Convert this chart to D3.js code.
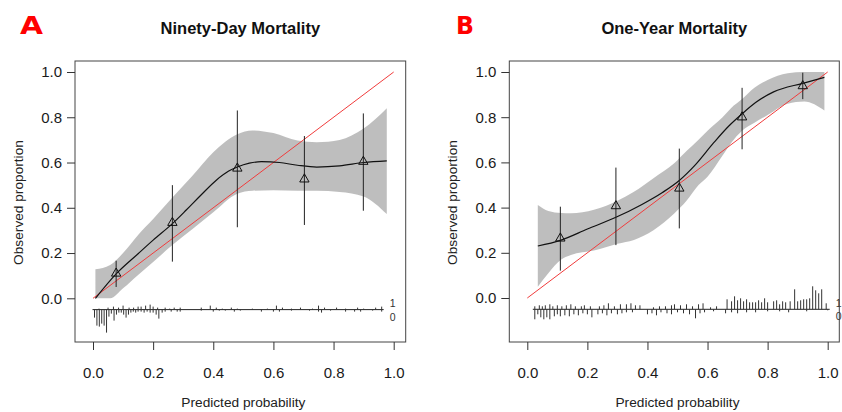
<!DOCTYPE html>
<html>
<head>
<meta charset="utf-8">
<style>
  body { margin: 0; background: #fff; }
  svg text { font-family: "Liberation Sans", Arial, Helvetica, sans-serif; }
  .tick line { stroke: #333; }
  .tick text { fill: #1a1a1a; font-size: 15px; }
</style>
</head>
<body>
<svg width="842" height="412"></svg>
<script src="https://cdnjs.cloudflare.com/ajax/libs/d3/7.8.5/d3.min.js"></script>
<script>
// tick values shared by both panels
const xTicks = [0, 0.2, 0.4, 0.6, 0.8, 1.0];
const yTicks = [0, 0.2, 0.4, 0.6, 0.8, 1.0];

// ---- A: ninety-day mortality ----
// grouped observed proportions (triangles) with 95% CI
const ninetyPredicted = [0.077, 0.264, 0.48, 0.703, 0.899];
const ninetyObserved  = [0.11, 0.334, 0.574, 0.526, 0.604];
const ninetyLower     = [0.05, 0.162, 0.314, 0.324, 0.387];
const ninetyUpper     = [0.166, 0.50, 0.83, 0.717, 0.817];
// loess calibration curve
const ninetyCurveX = [0.008, 0.077, 0.15, 0.20, 0.264, 0.31, 0.356, 0.41, 0.45, 0.48, 0.52, 0.56, 0.62, 0.68, 0.744, 0.82, 0.90, 0.977];
const ninetyCurveY = [0.0, 0.108, 0.197, 0.257, 0.33, 0.39, 0.452, 0.522, 0.561, 0.58, 0.597, 0.604, 0.60, 0.588, 0.58, 0.585, 0.60, 0.607];
// confidence band of the curve
const ninetyBandX  = [0.008, 0.057, 0.10, 0.15, 0.20, 0.264, 0.33, 0.40, 0.48, 0.53, 0.60, 0.68, 0.744, 0.82, 0.90, 0.977];
const ninetyBandLo = [0.0, 0.0, 0.044, 0.103, 0.16, 0.235, 0.305, 0.38, 0.462, 0.475, 0.478, 0.475, 0.475, 0.47, 0.45, 0.372];
const ninetyBandHi = [0.128, 0.147, 0.20, 0.28, 0.35, 0.445, 0.54, 0.645, 0.725, 0.742, 0.73, 0.697, 0.69, 0.70, 0.75, 0.84];
// spike histogram: [predicted probability, count]
const ninetySpikesEvent = [[0.02,1],[0.05,2],[0.068,3],[0.085,2],[0.10,4],[0.12,2],[0.135,2],[0.15,3],[0.16,3],[0.175,4],[0.19,5],[0.20,3],[0.215,2],[0.24,2],[0.255,1],[0.27,2],[0.29,2],[0.36,2],[0.39,4],[0.41,2],[0.43,1],[0.46,2],[0.48,1],[0.53,1],[0.58,1],[0.61,4],[0.63,2],[0.66,1],[0.69,2],[0.73,1],[0.75,4],[0.77,2],[0.81,2],[0.84,1],[0.88,2],[0.90,1],[0.94,2],[0.96,3]];
const ninetySpikesNone = [[0.005,8],[0.013,16],[0.021,17],[0.029,14],[0.037,16],[0.045,23],[0.053,7],[0.061,4],[0.07,11],[0.078,5],[0.086,3],[0.094,3],[0.102,5],[0.11,8],[0.118,5],[0.126,3],[0.134,2],[0.142,3],[0.15,2],[0.16,2],[0.17,3],[0.18,2],[0.19,3],[0.2,3],[0.21,5],[0.219,9],[0.23,3],[0.24,2],[0.26,2],[0.28,2],[0.29,2],[0.36,1],[0.4,2],[0.42,1],[0.44,1],[0.47,2],[0.49,1],[0.56,2],[0.6,2],[0.62,2],[0.66,1],[0.72,1],[0.75,2],[0.76,3],[0.79,1],[0.84,2],[0.87,2],[0.89,2],[0.93,1],[0.96,2]];

// ---- B: one-year mortality ----
const oneYearPredicted = [0.11, 0.295, 0.506, 0.715, 0.917];
const oneYearObserved  = [0.264, 0.407, 0.485, 0.80, 0.938];
const oneYearLower     = [0.121, 0.234, 0.308, 0.658, 0.88];
const oneYearUpper     = [0.404, 0.577, 0.661, 0.93, 0.997];
const oneYearCurveX = [0.035, 0.11, 0.20, 0.295, 0.38, 0.45, 0.506, 0.56, 0.62, 0.67, 0.715, 0.76, 0.82, 0.917, 0.989];
const oneYearCurveY = [0.23, 0.255, 0.305, 0.357, 0.413, 0.467, 0.52, 0.59, 0.686, 0.76, 0.815, 0.865, 0.912, 0.95, 0.976];
const oneYearBandX  = [0.035, 0.07, 0.113, 0.145, 0.222, 0.30, 0.355, 0.42, 0.49, 0.53, 0.57, 0.60, 0.65, 0.678, 0.715, 0.756, 0.80, 0.867, 0.922, 0.989];
const oneYearBandLo = [0.05, 0.11, 0.17, 0.19, 0.21, 0.24, 0.257, 0.30, 0.375, 0.43, 0.50, 0.537, 0.63, 0.685, 0.74, 0.775, 0.81, 0.86, 0.87, 0.83];
const oneYearBandHi = [0.412, 0.385, 0.376, 0.375, 0.39, 0.43, 0.47, 0.53, 0.597, 0.65, 0.70, 0.74, 0.80, 0.84, 0.88, 0.93, 0.965, 0.995, 1.0, 1.0];
const oneYearSpikesEvent = [[0.025,3],[0.04,4],[0.05,3],[0.06,4],[0.075,5],[0.085,3],[0.10,4],[0.115,3],[0.13,4],[0.145,5],[0.16,3],[0.18,3],[0.19,4],[0.21,3],[0.24,3],[0.255,4],[0.27,6],[0.29,3],[0.31,5],[0.33,5],[0.345,6],[0.36,4],[0.375,4],[0.42,2],[0.44,3],[0.46,3],[0.48,4],[0.49,5],[0.51,4],[0.53,5],[0.55,3],[0.57,5],[0.585,6],[0.61,2],[0.63,3],[0.665,10],[0.68,8],[0.69,13],[0.70,9],[0.71,11],[0.72,8],[0.73,10],[0.74,7],[0.75,7],[0.76,7],[0.77,9],[0.78,7],[0.79,11],[0.80,7],[0.82,8],[0.83,9],[0.84,5],[0.85,8],[0.86,7],[0.875,8],[0.89,20],[0.90,8],[0.91,9],[0.92,10],[0.93,10],[0.94,11],[0.95,23],[0.96,19],[0.97,16],[0.98,20],[0.995,6]];
const oneYearSpikesNone = [[0.025,10],[0.035,5],[0.045,8],[0.055,10],[0.065,8],[0.075,10],[0.09,7],[0.10,5],[0.11,7],[0.125,6],[0.14,7],[0.155,5],[0.17,6],[0.185,4],[0.20,5],[0.215,8],[0.235,5],[0.25,4],[0.265,6],[0.28,4],[0.30,5],[0.315,4],[0.33,3],[0.35,3],[0.40,5],[0.415,4],[0.43,6],[0.445,3],[0.465,4],[0.48,5],[0.50,3],[0.52,4],[0.54,5],[0.56,9],[0.575,4],[0.59,3],[0.62,2],[0.66,4],[0.68,3],[0.70,4],[0.73,3],[0.76,3],[0.80,2],[0.84,2],[0.87,3],[0.93,2],[1.0,1]];

const svg = d3.select("svg");
const fmt = d3.format(".1f");

const drawPanel = (p) => {
  const x = d3.scaleLinear().domain([0, 1]).range(p.xRange);
  const y = d3.scaleLinear().domain([0, 1]).range(p.yRange);
  const g = svg.append("g");

  // letter + title
  g.append("text").attr("x", p.letterX).attr("y", 34)
    .style("font-family", "'DejaVu Sans', sans-serif")
    .attr("font-size", 24).attr("font-weight", "bold").attr("fill", "#ff0000")
    .attr("textLength", p.letterW).attr("lengthAdjust", "spacingAndGlyphs")
    .text(p.letter);
  g.append("text").attr("x", (p.box[0] + p.box[2]) / 2).attr("y", 34)
    .attr("text-anchor", "middle").attr("font-size", 16.5).attr("font-weight", "bold")
    .attr("fill", "#111").text(p.title);

  // confidence band
  const bandData = p.bandX.map((d, i) => ({x: d, lo: p.bandLo[i], hi: p.bandHi[i]}));
  g.append("path").datum(bandData)
    .attr("fill", "#aeaeae").attr("fill-opacity", 0.8)
    .attr("d", d3.area().x(d => x(d.x)).y0(d => y(d.lo)).y1(d => y(d.hi)).curve(d3.curveMonotoneX));

  // ideal line
  g.append("line")
    .attr("x1", x(0)).attr("y1", y(0)).attr("x2", x(1)).attr("y2", y(1))
    .attr("stroke", "#f03c3c").attr("stroke-width", 1);

  // calibration curve
  const curveData = p.curveX.map((d, i) => [d, p.curveY[i]]);
  g.append("path").datum(curveData)
    .attr("fill", "none").attr("stroke", "#111").attr("stroke-width", 1.2)
    .attr("d", d3.line().x(d => x(d[0])).y(d => y(d[1])).curve(d3.curveMonotoneX));

  // error bars + triangles
  const pts = p.pred.map((d, i) => ({x: d, y: p.obs[i], lo: p.lo[i], hi: p.hi[i]}));
  g.selectAll(".err").data(pts).enter().append("line")
    .attr("x1", d => x(d.x)).attr("x2", d => x(d.x))
    .attr("y1", d => y(d.lo)).attr("y2", d => y(d.hi))
    .attr("stroke", "#222").attr("stroke-width", 1);
  g.selectAll(".tri").data(pts).enter().append("path")
    .attr("transform", d => "translate(" + x(d.x) + "," + y(d.y) + ")")
    .attr("d", d3.symbol(d3.symbolTriangle, 38))
    .attr("fill", "none").attr("stroke", "#111").attr("stroke-width", 1);

  // spike histogram
  const base = y(-0.05);
  const len = d3.scaleLinear().domain([0, 23]).range([0, 23]);
  const allX = p.spikesEvent.concat(p.spikesNone).map(d => d[0]);
  const ext = d3.extent(allX);
  const bx0 = x(ext[0]) - 2, bx1 = x(ext[1]) + 2;
  g.append("line").attr("x1", bx0).attr("x2", bx1).attr("y1", base).attr("y2", base)
    .attr("stroke", "#222").attr("stroke-width", 1);
  g.selectAll(".up").data(p.spikesEvent).enter().append("line")
    .attr("x1", d => x(d[0])).attr("x2", d => x(d[0]))
    .attr("y1", base).attr("y2", d => base - len(d[1]))
    .attr("stroke", "#333").attr("stroke-width", 1);
  g.selectAll(".dn").data(p.spikesNone).enter().append("line")
    .attr("x1", d => x(d[0])).attr("x2", d => x(d[0]))
    .attr("y1", base).attr("y2", d => base + len(d[1]))
    .attr("stroke", "#333").attr("stroke-width", 1);
  g.append("text").attr("x", bx1 + 6).attr("y", base - 2.5).attr("font-size", 10.5).attr("fill", "#333").text("1");
  g.append("text").attr("x", bx1 + 6).attr("y", base + 11).attr("font-size", 10.5).attr("fill", "#333").text("0");

  // box
  g.append("rect").attr("x", p.box[0]).attr("y", p.box[1])
    .attr("width", p.box[2] - p.box[0]).attr("height", p.box[3] - p.box[1])
    .attr("fill", "none").attr("stroke", "#444").attr("stroke-width", 1);

  // axes
  const ax = g.append("g").attr("transform", "translate(0," + p.box[3] + ")")
    .call(d3.axisBottom(x).tickValues(xTicks).tickFormat(fmt).tickSize(8).tickSizeOuter(0).tickPadding(17));
  ax.select(".domain").remove();
  const ay = g.append("g").attr("transform", "translate(" + p.box[0] + ",0)")
    .call(d3.axisLeft(y).tickValues(yTicks).tickFormat(fmt).tickSize(8).tickSizeOuter(0).tickPadding(5));
  ay.select(".domain").remove();

  // axis titles
  g.append("text").attr("x", (p.xRange[0] + p.xRange[1]) / 2).attr("y", 406.5)
    .attr("text-anchor", "middle").attr("font-size", 13.7).attr("fill", "#222")
    .text("Predicted probability");
  g.append("text")
    .attr("transform", "translate(" + (p.box[0] - 52.5) + "," + 202.5 + ") rotate(-90)")
    .attr("text-anchor", "middle").attr("font-size", 13.7).attr("fill", "#222")
    .text("Observed proportion");
};

drawPanel({
  letter: "A", letterX: 20, letterW: 23, title: "Ninety-Day Mortality",
  box: [75, 61, 405.7, 342], xRange: [93, 393.7], yRange: [298.3, 72],
  pred: ninetyPredicted, obs: ninetyObserved, lo: ninetyLower, hi: ninetyUpper,
  curveX: ninetyCurveX, curveY: ninetyCurveY,
  bandX: ninetyBandX, bandLo: ninetyBandLo, bandHi: ninetyBandHi,
  spikesEvent: ninetySpikesEvent, spikesNone: ninetySpikesNone
});

drawPanel({
  letter: "B", letterX: 456, letterW: 18, title: "One-Year Mortality",
  box: [509.3, 61, 839.3, 342], xRange: [527.3, 827.7], yRange: [298, 72],
  pred: oneYearPredicted, obs: oneYearObserved, lo: oneYearLower, hi: oneYearUpper,
  curveX: oneYearCurveX, curveY: oneYearCurveY,
  bandX: oneYearBandX, bandLo: oneYearBandLo, bandHi: oneYearBandHi,
  spikesEvent: oneYearSpikesEvent, spikesNone: oneYearSpikesNone
});
</script>
</body>
</html>
